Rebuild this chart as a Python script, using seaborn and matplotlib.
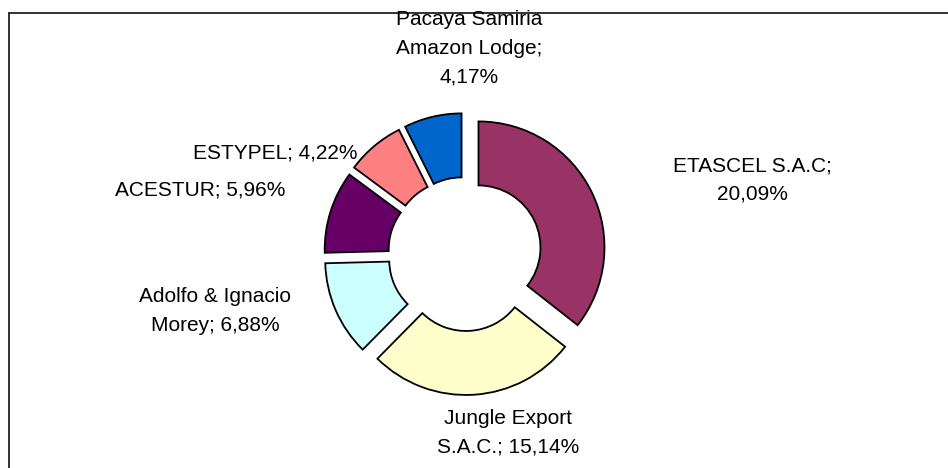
import matplotlib.pyplot as plt
import seaborn as sns

sns.set_theme(style="white")
plt.rcParams['font.family'] = ['Liberation Sans', 'DejaVu Sans']

companies = ["ETASCEL S.A.C", "Jungle Export S.A.C.", "Adolfo & Ignacio Morey",
             "ACESTUR", "ESTYPEL", "Pacaya Samiria Amazon Lodge"]
shares = [20.09, 15.14, 6.88, 5.96, 4.22, 4.17]
label_texts = ["ETASCEL S.A.C;\n20,09%", "Jungle Export\nS.A.C.; 15,14%",
               "Adolfo & Ignacio\nMorey; 6,88%", "ACESTUR; 5,96%",
               "ESTYPEL; 4,22%", "Pacaya Samiria\nAmazon Lodge;\n4,17%"]
colors = ["#993366", "#FFFFCC", "#CCFFFF", "#660066", "#FF8080", "#0066CC"]

# label anchor points in pixel space (x from left, y from top)
label_pos = [(752, 180), (508, 433), (215, 311), (200, 190), (275, 153), (469, 48)]

W, H = 948, 468
fig = plt.figure(figsize=(W / 100, H / 100), dpi=100)
ax = fig.add_axes([0, 0, 1, 1])

# explode is in data units here (pixels)
ax.pie(shares, colors=colors, startangle=90, counterclock=False,
       center=(465, H - 254), radius=126, explode=[15] * len(shares),
       wedgeprops=dict(width=64, edgecolor="black", linewidth=1.3),
       frame=True)
ax.set_xlim(0, W)
ax.set_ylim(0, H)
ax.set_axis_off()

for txt, (px, py) in zip(label_texts, label_pos):
    ax.text(px, H - py, txt, ha="center", va="center", multialignment="center",
            fontsize=15, linespacing=1.65, color="black")

# chart area border (top and left edges visible)
ax.plot([9, W + 5], [H - 13, H - 13], color="#222222", lw=1.3, clip_on=False)
ax.plot([9, 9], [H - 13, -5], color="#222222", lw=1.3, clip_on=False)

fig.savefig("out.png", dpi=100)
